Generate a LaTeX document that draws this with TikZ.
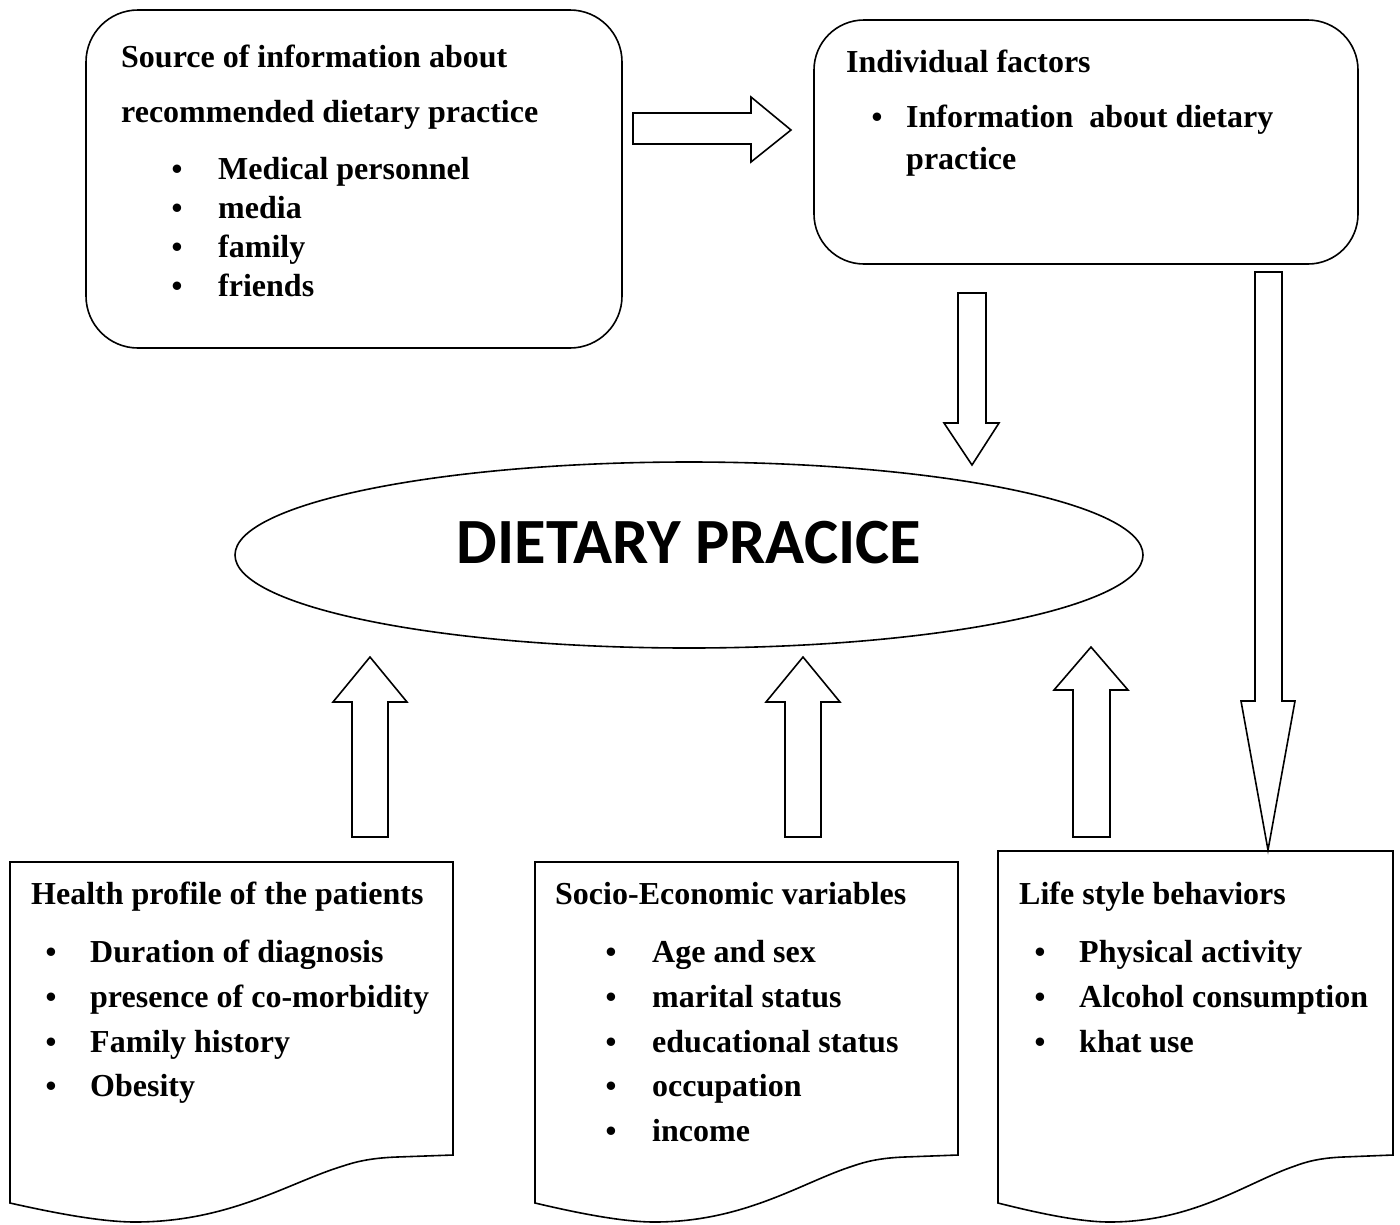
\documentclass[tikz,border=0pt]{standalone}
\usepackage{fontspec}
\setmainfont{Liberation Serif}
\newfontfamily\calib{Carlito}
\usetikzlibrary{shapes.geometric}
\tikzset{
  boxline/.style={draw=black, line width=1.6pt},
  blockarrow/.style={draw=black, line width=1.6pt, fill=white, line join=miter},
  txt/.style={inner sep=0pt, anchor=base west, font=\fontsize{32}{38}\selectfont\bfseries},
  bul/.style={inner sep=0pt, anchor=base, font=\fontsize{31}{37}\selectfont\bfseries},
}
\begin{document}
\begin{tikzpicture}[x=1pt,y=-1pt]
\useasboundingbox (0,0) rectangle (1400,1224);
% top boxes
\node[boxline, rounded corners=52pt, minimum width=536pt, minimum height=338pt] (src) at (354,179) {};
\node[boxline, rounded corners=50pt, minimum width=544pt, minimum height=244pt] (ind) at (1086,142) {};
% ellipse
\node[boxline, ellipse, minimum width=908pt, minimum height=186pt, inner sep=0pt] (dp) at (689,555) {};
\node[inner sep=0pt, font=\calib\fontsize{64.5}{72}\selectfont\bfseries] (dptext) at (689,543) {DIETARY PRACICE};
% document shapes
\foreach \nm/\xa/\xb/\yt in {hp/10/453/862, se/535/958/862, ls/998/1393/851}{
  \pgfmathsetmacro\sc{(\xb-\xa)/443}
  \begin{scope}[shift={(\xa,0)}, xscale=\sc]
    \draw[boxline, line join=miter] (0,\yt) -- (443,\yt) -- (443,1155) -- (387,1157)
      .. controls (360,1158) and (345,1162) .. (333,1166)
      .. controls (280,1182) and (220,1222) .. (125,1222)
      .. controls (90,1222) and (40,1212) .. (0,1203) -- cycle;
    \coordinate (\nm) at (221,\yt);
  \end{scope}
}
% block arrows
\draw[blockarrow] (633,113) -- (751,113) -- (751,97) -- (791,130) -- (751,162) -- (751,144) -- (633,144) -- cycle;
\draw[blockarrow] (958,293) -- (986,293) -- (986,423) -- (999,423) -- (972,465) -- (944,423) -- (958,423) -- cycle;
\draw[blockarrow] (1255,272) -- (1282,272) -- (1282,701) -- (1295,701) -- (1268,850) -- (1241,701) -- (1255,701) -- cycle;
\draw[blockarrow] (352,837) -- (352,702) -- (333,702) -- (370,657) -- (407,702) -- (388,702) -- (388,837) -- cycle;
\draw[blockarrow] (785,837) -- (785,702) -- (766,702) -- (803,657) -- (840,702) -- (821,702) -- (821,837) -- cycle;
\draw[blockarrow] (1073,837) -- (1073,690) -- (1054,690) -- (1091,647) -- (1128,690) -- (1110,690) -- (1110,837) -- cycle;
% top-left text
\node[txt] (s1) at (121,67) {Source of information about};
\node[txt] (s2) at (121,122) {recommended dietary practice};
\foreach \i/\y/\t in {1/179/Medical personnel, 2/218/media, 3/257/family, 4/296/friends}{
  \node[bul] (sb\i) at (177,\y) {\textbullet};
  \node[txt] (st\i) at (218,\y) {\t};
}
% top-right text
\node[txt] (i1) at (846,72) {Individual factors};
\node[bul] (ib1) at (877,127) {\textbullet};
\node[txt] (it1) at (906,127) {Information\ \ about dietary};
\node[txt] (it2) at (906,169) {practice};
% bottom-left text
\node[txt] (h0) at (31,904) {Health profile of the patients};
\foreach \i/\y/\t in {1/962/Duration of diagnosis, 2/1007/presence of co-morbidity, 3/1052/Family history, 4/1096/Obesity}{
  \node[bul] (hb\i) at (51,\y) {\textbullet};
  \node[txt] (ht\i) at (90,\y) {\t};
}
% bottom-middle text
\node[txt] (e0) at (555,904) {Socio-Economic variables};
\foreach \i/\y/\t in {1/962/Age and sex, 2/1007/marital status, 3/1052/educational status, 4/1096/occupation, 5/1141/income}{
  \node[bul] (eb\i) at (611,\y) {\textbullet};
  \node[txt] (et\i) at (652,\y) {\t};
}
% bottom-right text
\node[txt] (l0) at (1019,904) {Life style behaviors};
\foreach \i/\y/\t in {1/962/Physical activity, 2/1007/Alcohol consumption, 3/1052/khat use}{
  \node[bul] (lb\i) at (1040,\y) {\textbullet};
  \node[txt] (lt\i) at (1079,\y) {\t};
}
\end{tikzpicture}
\end{document}
